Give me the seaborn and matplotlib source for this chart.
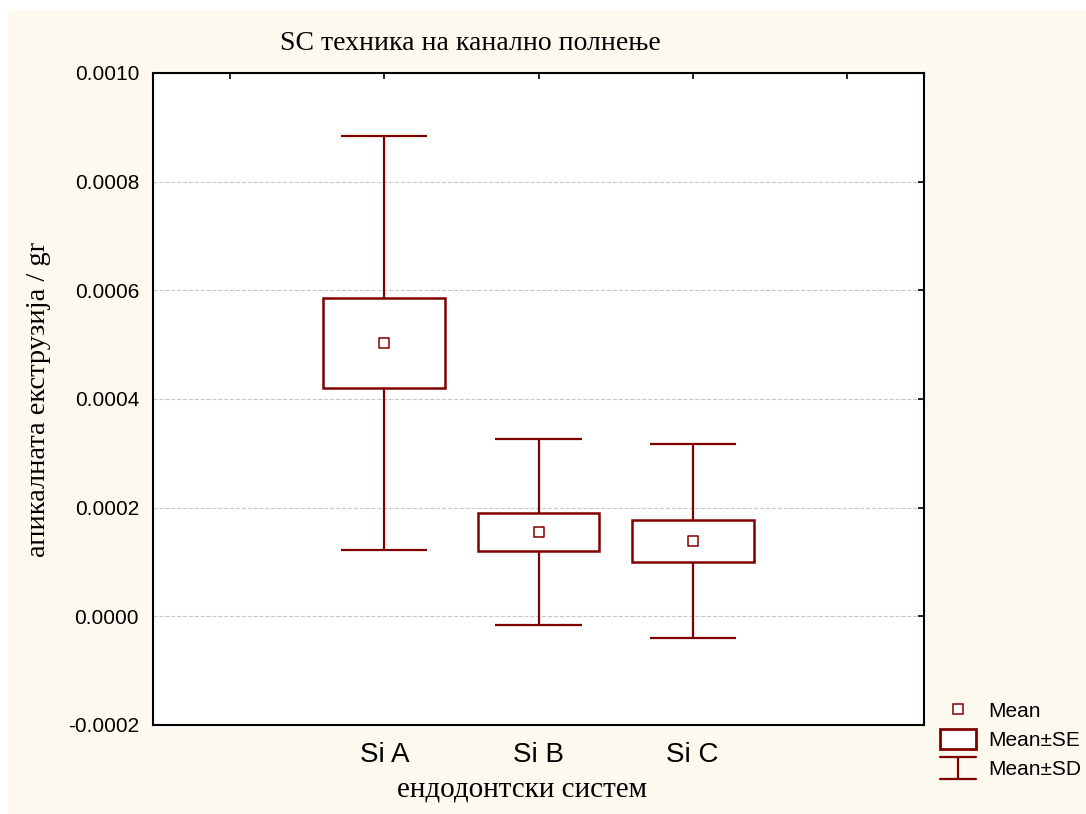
import numpy as np
import pandas as pd
import matplotlib
matplotlib.use('Agg')
import matplotlib.pyplot as plt
import seaborn as sns
from matplotlib.lines import Line2D
from matplotlib.patches import Patch, Rectangle
from matplotlib.legend_handler import HandlerBase

# values
groups = ['Si A', 'Si B', 'Si C']
means = [0.000503, 0.000155, 0.000139]
se = [0.0000835, 0.000035, 0.0000385]
sd = [0.000381, 0.000171, 0.000178]

y_ticks = [-0.0002, 0.0, 0.0002, 0.0004, 0.0006, 0.0008, 0.0010]

title = 'SC техника на канално полнење'
x_label = 'ендодонтски систем'
y_label = 'апикалната екструзија / gr'

maroon = '#800000'
cream = '#FDF9EF'

df = pd.DataFrame({'group': groups, 'mean': means, 'se': se, 'sd': sd})
df['pos'] = np.arange(len(df)) + 1

sns.set_style('white')
plt.rcParams['axes.unicode_minus'] = False
plt.rcParams['font.family'] = ['Liberation Sans', 'DejaVu Sans']
plt.rcParams['text.color'] = 'black'
plt.rcParams['axes.labelcolor'] = 'black'
plt.rcParams['xtick.color'] = 'black'
plt.rcParams['ytick.color'] = 'black'

fig = plt.figure(figsize=(10.86, 8.14), dpi=100)
fig.patch.set_facecolor('white')
fig.patches.append(Rectangle((8 / 1086, 0), 1, 1 - 10 / 814, transform=fig.transFigure,
                             facecolor=cream, edgecolor='none', zorder=-10))
ax = fig.add_axes([153 / 1086, 1 - 725 / 814, (924 - 153) / 1086, (725 - 73) / 814])
ax.set_facecolor('white')

# SD whiskers
ax.vlines(df['pos'], df['mean'] - df['sd'], df['mean'] + df['sd'], color=maroon, lw=1.6, zorder=2)
ax.hlines(df['mean'] - df['sd'], df['pos'] - 0.28, df['pos'] + 0.28, color=maroon, lw=1.6, zorder=2)
ax.hlines(df['mean'] + df['sd'], df['pos'] - 0.28, df['pos'] + 0.28, color=maroon, lw=1.6, zorder=2)

# SE boxes
ax.bar(df['pos'], 2 * df['se'], bottom=df['mean'] - df['se'], width=0.79,
       facecolor='white', edgecolor=maroon, linewidth=1.8, zorder=3)

# means
sns.scatterplot(data=df, x='pos', y='mean', marker='s', s=55, color='white',
                edgecolor=maroon, linewidth=1.1, ax=ax, zorder=4, legend=False)

ax.set_xlim(-0.5, len(groups) + 1.5)
ax.set_ylim(y_ticks[0], y_ticks[-1])
ax.set_xticks(np.arange(len(groups) + 2))
ax.set_xticklabels([''] + groups + [''], fontsize=20)
ax.set_yticks(y_ticks)
ax.set_yticklabels(['%.4f' % v for v in y_ticks], fontsize=15)
ax.tick_params(axis='both', direction='in', top=True, right=True, length=4, width=1.2,
               color='black', labelcolor='black')
ax.tick_params(axis='y', pad=10)
ax.tick_params(axis='x', pad=12)
ax.yaxis.grid(True, linestyle='--', color='#c8c8c8', lw=0.8)
ax.set_axisbelow(True)
for s in ax.spines.values():
    s.set_color('black')
    s.set_linewidth(1.5)

ax.set_xlabel(x_label, fontsize=21, family='Liberation Serif')
ax.xaxis.set_label_coords((522 - 153) / 771, -52 / 652)
ax.set_ylabel(y_label, fontsize=20.5, family='Liberation Serif', labelpad=12)
fig.text(470 / 1086, 1 - 44 / 814, title, fontsize=20, family='Liberation Serif',
         ha='center', va='center')


class SDHandle:
    pass


class SDHandler(HandlerBase):
    def create_artists(self, legend, orig_handle, xdescent, ydescent, width, height, fontsize, trans):
        x0, x1 = -xdescent, -xdescent + width
        y0, y1 = -ydescent - 1, -ydescent + height + 1
        xm = (x0 + x1) / 2
        arts = [Line2D([x0, x1], [y0, y0]), Line2D([x0, x1], [y1, y1]), Line2D([xm, xm], [y0, y1])]
        for a in arts:
            a.set_color(maroon)
            a.set_linewidth(1.6)
            a.set_transform(trans)
        return arts


h_mean = Line2D([], [], marker='s', ls='none', mfc='white', mec=maroon, ms=7.5, mew=1.1)
h_se = Patch(facecolor='white', edgecolor=maroon, linewidth=2)
h_sd = SDHandle()
fig.legend([h_mean, h_se, h_sd], ['Mean', 'Mean±SE', 'Mean±SD'],
           handler_map={SDHandle: SDHandler()}, loc='upper left',
           bbox_to_anchor=(940 / 1086, 1 - 700 / 814), frameon=False, fontsize=15,
           borderpad=0, borderaxespad=0, handlelength=1.75, handleheight=1.1,
           handletextpad=0.55, labelspacing=0.38)

fig.savefig('out.png', dpi=100)
